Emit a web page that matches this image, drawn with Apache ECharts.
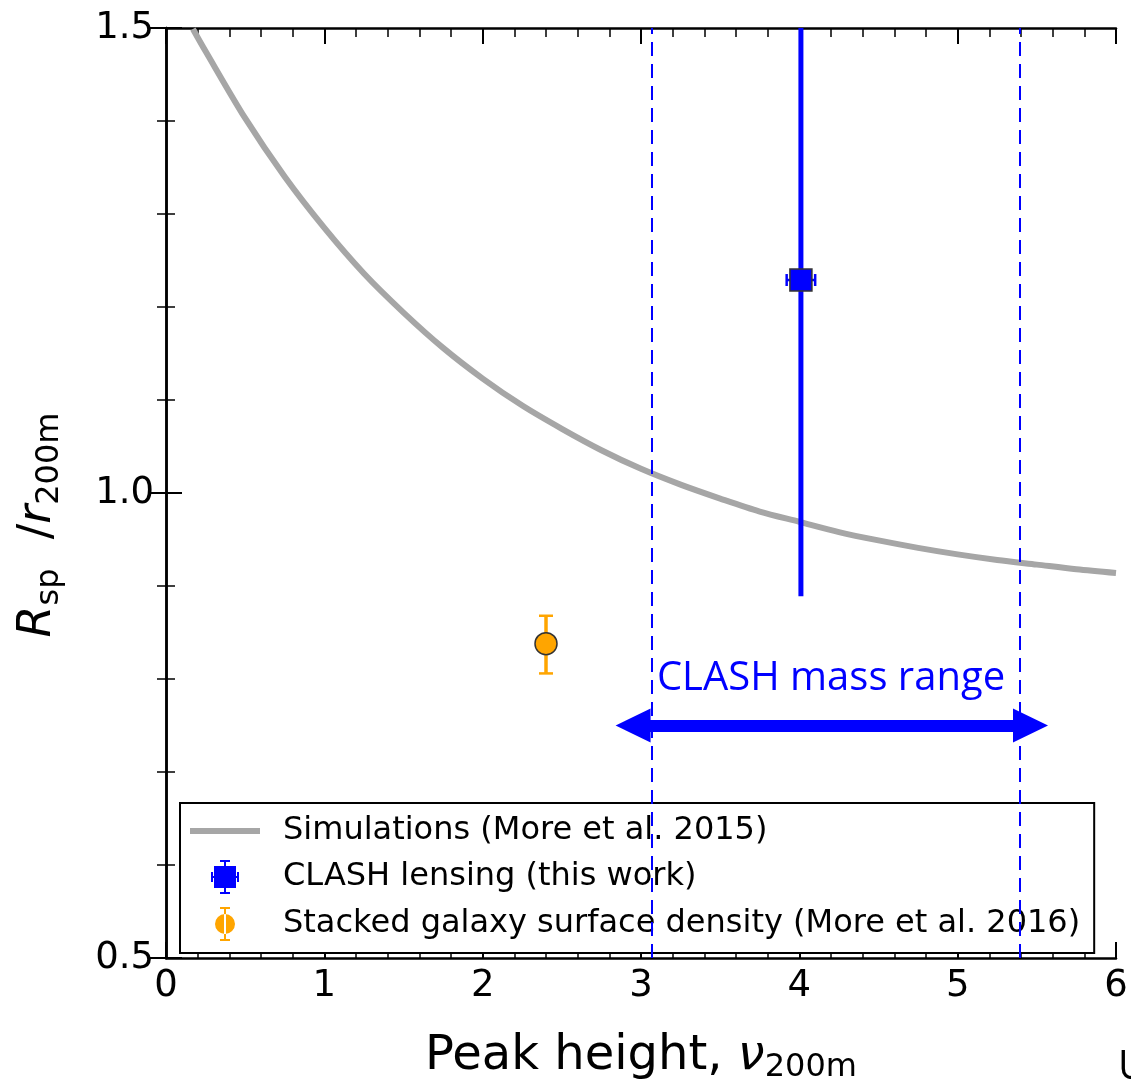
<!DOCTYPE html>
<html>
<head>
<meta charset="utf-8">
<script src="https://cdn.jsdelivr.net/npm/echarts@6/dist/echarts.min.js"></script>
<style>
  html, body { margin: 0; padding: 0; background: #fff; }
  #main { width: 1131px; height: 1089px; }
</style>
</head>
<body>
<div id="main"></div>
<script>
// simulation curve (More et al. 2015)
const simX = [0.17, 0.25, 0.5, 0.75, 1.0, 1.25, 1.5, 1.75, 2.0, 2.25, 2.5, 2.75, 3.0, 3.25, 3.5, 3.75, 4.0, 4.25, 4.5, 4.75, 5.0, 5.25, 5.5, 5.75, 6.0];
const simY = [1.499, 1.475, 1.403, 1.340, 1.285, 1.236, 1.194, 1.156, 1.123, 1.094, 1.069, 1.046, 1.026, 1.009, 0.994, 0.980, 0.969, 0.958, 0.949, 0.941, 0.934, 0.928, 0.923, 0.918, 0.914];

// CLASH lensing point: [x, y], x error, y error
const clashPoint = [4.01, 1.229];
const clashXErr = [0.09, 0.09];
const clashYErr = [0.34, 0.34];

// stacked galaxy surface density point
const stackPoint = [2.40, 0.838];
const stackYErr = [0.032, 0.030];

// CLASH mass range (dashed lines) and the double arrow
const massRange = [3.066, 5.386];
const arrowX = [2.95, 5.46];
const arrowY = 0.75;
const rangeLabel = [4.2, 0.80];

const xTicks = [0, 6, 1];
const yTicks = [0.5, 1.5, 0.5];

const FONT = 'DejaVu Sans';
const names = [
    'Simulations (More et al. 2015)',
    'CLASH lensing (this work)',
    'Stacked galaxy surface density (More et al. 2016)'
];

const chart = echarts.init(document.getElementById('main'), null, { renderer: 'canvas' });

function errorBar(color, width, capX, capY, xWidth) {
    return function (params, api) {
        const x = api.value(0), y = api.value(1);
        const xl = api.value(2), xh = api.value(3);
        const yl = api.value(4), yh = api.value(5);
        const c = api.coord([x, y]);
        const top = api.coord([x, y + yh]);
        const bot = api.coord([x, y - yl]);
        const left = api.coord([x - xl, y]);
        const right = api.coord([x + xh, y]);
        const st = { stroke: color, lineWidth: width };
        const sx = { stroke: color, lineWidth: xWidth };
        const kids = [
            { type: 'line', shape: { x1: c[0], y1: top[1], x2: c[0], y2: bot[1] }, style: st }
        ];
        if (capX > 0) {
            kids.push(
                { type: 'line', shape: { x1: c[0] - capX, y1: top[1], x2: c[0] + capX, y2: top[1] }, style: sx },
                { type: 'line', shape: { x1: c[0] - capX, y1: bot[1], x2: c[0] + capX, y2: bot[1] }, style: sx }
            );
        }
        if (xl > 0 || xh > 0) {
            kids.push(
                { type: 'line', shape: { x1: left[0], y1: c[1], x2: right[0], y2: c[1] }, style: sx },
                { type: 'line', shape: { x1: left[0], y1: c[1] - capY, x2: left[0], y2: c[1] + capY }, style: sx },
                { type: 'line', shape: { x1: right[0], y1: c[1] - capY, x2: right[0], y2: c[1] + capY }, style: sx }
            );
        }
        return { type: 'group', children: kids };
    };
}

const axisLine = { show: true, lineStyle: { color: '#000', width: 2.5 } };
const tick = { inside: true, length: 16, lineStyle: { color: '#000', width: 2 } };
const minor = { show: true, splitNumber: 5, length: 9, lineStyle: { color: '#000', width: 1.5 } };

const option = {
    backgroundColor: '#fff',
    animation: false,
    grid: { left: 166, right: 15, top: 28, bottom: 116 },
    xAxis: [{
        type: 'value', min: xTicks[0], max: xTicks[1], interval: xTicks[2],
        axisLine: axisLine, axisTick: tick, minorTick: minor, splitLine: { show: false },
        axisLabel: { fontSize: 37, fontFamily: FONT, color: '#000', margin: 10 },
        name: '{n|Peak height, }{i|ν}{s|200m}',
        nameLocation: 'middle', nameGap: 72,
        nameTextStyle: {
            rich: {
                n: { fontSize: 48, fontFamily: FONT, color: '#000', lineHeight: 54 },
                i: { fontSize: 48, fontFamily: FONT, fontStyle: 'italic', color: '#000', lineHeight: 54 },
                s: { fontSize: 32, fontFamily: FONT, color: '#000', verticalAlign: 'bottom', lineHeight: 34 }
            }
        }
    }, {
        type: 'value', min: xTicks[0], max: xTicks[1], interval: xTicks[2], position: 'top',
        axisLine: axisLine, axisTick: tick, minorTick: minor, splitLine: { show: false },
        axisLabel: { show: false }
    }],
    yAxis: [{
        type: 'value', min: yTicks[0], max: yTicks[1], interval: yTicks[2],
        axisLine: axisLine, axisTick: tick, minorTick: minor, splitLine: { show: false },
        axisLabel: { fontSize: 37, fontFamily: FONT, color: '#000', margin: 12, formatter: v => v.toFixed(1) },
        name: '{i|R}{s|sp}{n|  /}{i|r}{s|200m}',
        nameLocation: 'middle', nameGap: 100, nameRotate: 90,
        nameTextStyle: {
            padding: [0, 64, 0, 0],
            rich: {
                n: { fontSize: 46, fontFamily: FONT, color: '#000', lineHeight: 56 },
                i: { fontSize: 46, fontFamily: FONT, fontStyle: 'italic', color: '#000', lineHeight: 56 },
                s: { fontSize: 32, fontFamily: FONT, color: '#000', verticalAlign: 'bottom', lineHeight: 34 }
            }
        }
    }, {
        type: 'value', min: yTicks[0], max: yTicks[1], interval: yTicks[2], position: 'right',
        axisLine: axisLine, axisTick: tick, minorTick: minor, splitLine: { show: false },
        axisLabel: { show: false }
    }],
    legend: {
        left: 180, top: 803,
        orient: 'vertical',
        selectedMode: false,
        backgroundColor: '#fff',
        borderColor: '#000', borderWidth: 2,
        padding: [12, 14, 12, 10],
        itemWidth: 70, itemHeight: 34, itemGap: 13,
        textStyle: { fontSize: 32, fontFamily: FONT, color: '#000', padding: [0, 0, 0, 18] },
        data: [
            { name: names[0], icon: 'path://M0,0H70V6H0Z', itemStyle: { color: '#a6a6a6', borderWidth: 0 } },
            { name: names[1], icon: 'path://M3,6H25V28H3Z M13,0H15V34H13Z M9,0H19V2H9Z M9,32H19V34H9Z M0,16H28V18H0Z M0,12H2V22H0Z M26,12H28V22H26Z', itemStyle: { color: '#0000ff', borderWidth: 0 } },
            { name: names[2], icon: 'path://M10,0H12V34H10Z M6,0H16V2H6Z M6,32H16V34H6Z M1,17A10,10 0 1,0 21,17A10,10 0 1,0 1,17Z', itemStyle: { color: '#ffa500', borderWidth: 0 } }
        ]
    },
    series: [{
        name: 'ranges',
        type: 'line',
        data: [],
        z: 1,
        markLine: {
            silent: true,
            symbol: 'none',
            label: { show: false },
            lineStyle: { color: '#0000ff', width: 2, type: [14, 8] },
            data: massRange.map(v => ({ xAxis: v }))
        }
    }, {
        name: names[0],
        type: 'line',
        data: simX.map((x, i) => [x, simY[i]]),
        smooth: 0.3,
        showSymbol: false,
        clip: true,
        z: 3,
        lineStyle: { color: '#a6a6a6', width: 6 },
        itemStyle: { color: '#a6a6a6' }
    }, {
        name: 'clash-err',
        type: 'custom',
        clip: true,
        z: 4,
        renderItem: errorBar('#0000ff', 5, 0, 6, 2.5),
        data: [[clashPoint[0], clashPoint[1], clashXErr[0], clashXErr[1], clashYErr[0], clashYErr[1]]]
    }, {
        name: 'stack-err',
        type: 'custom',
        clip: true,
        z: 4,
        renderItem: errorBar('#ffa500', 3.5, 7, 0, 2.5),
        data: [[stackPoint[0], stackPoint[1], 0, 0, stackYErr[0], stackYErr[1]]]
    }, {
        name: names[1],
        type: 'scatter',
        symbol: 'rect',
        symbolSize: 22,
        z: 5,
        itemStyle: { color: '#0000ff', borderColor: '#333', borderWidth: 1.5, opacity: 1 },
        data: [clashPoint]
    }, {
        name: names[2],
        type: 'scatter',
        symbol: 'circle',
        symbolSize: 22,
        z: 5,
        itemStyle: { color: '#ffa500', borderColor: '#333', borderWidth: 1.5, opacity: 1 },
        data: [stackPoint]
    }, {
        name: 'arrow',
        type: 'line',
        data: [],
        z: 6,
        markLine: {
            silent: true,
            symbol: ['triangle', 'triangle'],
            symbolSize: [34, 35],
            lineStyle: { color: '#0000ff', width: 12, type: 'solid' },
            itemStyle: { color: '#0000ff' },
            label: { show: false },
            data: [[{ coord: [arrowX[0], arrowY] }, { coord: [arrowX[1], arrowY] }]]
        },
        markPoint: {
            silent: true,
            symbol: 'circle',
            symbolSize: 0,
            label: {
                show: true, position: 'inside',
                formatter: 'CLASH mass range',
                fontSize: 40, fontFamily: 'Open Sans', color: '#0000ff'
            },
            data: [{ coord: rangeLabel }]
        }
    }],
    graphic: [{
        type: 'text', left: 1118, top: 1048,
        style: { text: 'U', fontSize: 40, fontFamily: 'Open Sans', fill: '#000' }
    }]
};

chart.setOption(option);
</script>
</body>
</html>
